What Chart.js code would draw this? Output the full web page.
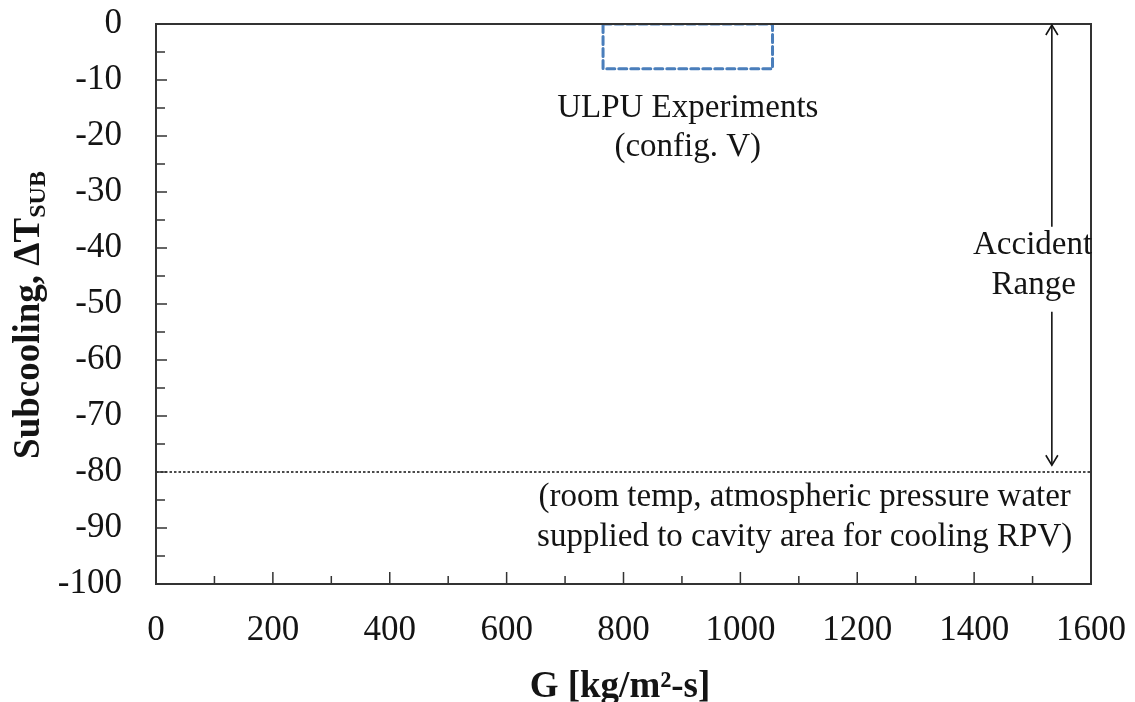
<!DOCTYPE html>
<html lang="en">
<head>
<meta charset="UTF-8">
<title>Subcooling vs G</title>
<script src="https://cdn.jsdelivr.net/npm/chart.js"></script>
<style>
  html, body { margin: 0; padding: 0; background: #fff; }
  #wrap { width: 1135px; height: 702px; }
</style>
</head>
<body>
<div id="wrap"><canvas id="chart" width="1135" height="702"></canvas></div>
<script>
// ULPU experiment envelope (dashed box)
const boxG   = [765, 1055, 1055, 765, 765];
const boxSub = [0, 0, -8, -8, 0];
// room temperature water line
const roomG   = [0, 1600];
const roomSub = [-80, -80];
// accident range arrow (gap in the middle for the label)
const arrowG   = [1533, 1533, 1533, 1533, 1533];
const arrowSub = [0, -36.2, null, -51.4, -78.8];

const xMin = 0, xMax = 1600, xStep = 200;
const yMin = -100, yMax = 0, yStep = 10;

const serif = '"Liberation Serif", "Times New Roman", serif';
const ink = '#141414';

function pts(xs, ys) {
  return xs.map((x, i) => ({ x: x, y: ys[i] }));
}

// text notes placed in data units
const notes = [
  { text: 'ULPU Experiments', x: 910, y: -15 },
  { text: '(config. V)', x: 910, y: -22.1 },
  { text: 'Accident', x: 1500, y: -39.5 },
  { text: 'Range', x: 1502, y: -46.6 },
  { text: '(room temp, atmospheric pressure water', x: 1110, y: -84.5 },
  { text: 'supplied to cavity area for cooling RPV)', x: 1110, y: -91.6 }
];

// kill the automatic label overflow padding so the plot box stays put
function noPad(s) {
  s.paddingTop = 0; s.paddingBottom = 0;
  s.paddingLeft = 0; s.paddingRight = 0;
}

const decorPlugin = {
  id: 'decor',
  afterDatasetsDraw(chart) {
    const ctx = chart.ctx;
    const a = chart.chartArea;
    const xs = chart.scales.x, ys = chart.scales.y;
    ctx.save();

    // frame
    ctx.strokeStyle = '#333';
    ctx.lineWidth = 2;
    ctx.strokeRect(a.left, a.top, a.right - a.left, a.bottom - a.top);

    // inward tick marks, major and minor
    ctx.lineWidth = 1.5;
    ctx.beginPath();
    const yt = ys.ticks.map(t => t.value);
    yt.forEach((v, i) => {
      const p = ys.getPixelForValue(v);
      ctx.moveTo(a.left, p); ctx.lineTo(a.left + 11, p);
      if (i < yt.length - 1) {
        const m = ys.getPixelForValue((v + yt[i + 1]) / 2);
        ctx.moveTo(a.left, m); ctx.lineTo(a.left + 9, m);
      }
    });
    const xt = xs.ticks.map(t => t.value);
    xt.forEach((v, i) => {
      const p = xs.getPixelForValue(v);
      ctx.moveTo(p, a.bottom); ctx.lineTo(p, a.bottom - 12);
      if (i < xt.length - 1) {
        const m = xs.getPixelForValue((v + xt[i + 1]) / 2);
        ctx.moveTo(m, a.bottom); ctx.lineTo(m, a.bottom - 8);
      }
    });
    ctx.stroke();

    // arrow heads
    const ax = xs.getPixelForValue(arrowG[0]);
    const top = ys.getPixelForValue(arrowSub[0]);
    const bot = ys.getPixelForValue(arrowSub[arrowSub.length - 1]);
    ctx.strokeStyle = ink;
    ctx.lineWidth = 1.6;
    ctx.beginPath();
    ctx.moveTo(ax - 6, top + 11); ctx.lineTo(ax, top + 1); ctx.lineTo(ax + 6, top + 11);
    ctx.moveTo(ax - 6, bot - 10); ctx.lineTo(ax, bot); ctx.lineTo(ax + 6, bot - 10);
    ctx.stroke();

    // notes
    ctx.fillStyle = ink;
    ctx.font = '33px ' + serif;
    ctx.textAlign = 'center';
    ctx.textBaseline = 'middle';
    notes.forEach(n => {
      ctx.fillText(n.text, xs.getPixelForValue(n.x), ys.getPixelForValue(n.y));
    });

    // x axis title
    ctx.font = 'bold 37px ' + serif;
    ctx.fillText('G [kg/m²-s]', 620, 687);

    // y axis title with subscript
    ctx.translate(27, 315);
    ctx.rotate(-Math.PI / 2);
    const main = 'Subcooling, \u0394T', sub = 'SUB';
    ctx.font = 'bold 37px ' + serif;
    const w1 = ctx.measureText(main).width;
    ctx.font = 'bold 24px ' + serif;
    const w2 = ctx.measureText(sub).width;
    const x0 = -(w1 + w2) / 2;
    ctx.textAlign = 'left';
    ctx.textBaseline = 'alphabetic';
    ctx.font = 'bold 37px ' + serif;
    ctx.fillText(main, x0, 12);
    ctx.font = 'bold 24px ' + serif;
    ctx.fillText(sub, x0 + w1, 18);
    ctx.restore();
  }
};

new Chart(document.getElementById('chart'), {
  type: 'scatter',
  data: {
    datasets: [
      {
        label: 'ULPU Experiments (config. V)',
        data: pts(boxG, boxSub),
        showLine: true,
        borderColor: '#4a7ebb',
        borderWidth: 3,
        borderDash: [8, 4],
        borderCapStyle: 'round',
        borderJoinStyle: 'round',
        pointRadius: 0,
        tension: 0
      },
      {
        label: 'Room temp water',
        data: pts(roomG, roomSub),
        showLine: true,
        borderColor: '#111',
        borderWidth: 1.4,
        borderDash: [2.5, 2],
        pointRadius: 0
      },
      {
        label: 'Accident Range',
        data: pts(arrowG, arrowSub),
        showLine: true,
        spanGaps: false,
        borderColor: ink,
        borderWidth: 1.6,
        pointRadius: 0
      }
    ]
  },
  options: {
    responsive: false,
    animation: false,
    events: [],
    layout: { padding: { left: 0, top: 24, right: 44, bottom: 0 } },
    plugins: { legend: { display: false }, tooltip: { enabled: false } },
    scales: {
      x: {
        type: 'linear',
        min: xMin, max: xMax,
        grid: { display: false },
        border: { display: false },
        ticks: {
          stepSize: xStep,
          padding: 18,
          color: ink,
          font: { family: serif, size: 35 },
          callback: v => String(v)
        },
        afterFit(s) { s.height = 118; noPad(s); }
      },
      y: {
        type: 'linear',
        min: yMin, max: yMax,
        grid: { display: false },
        border: { display: false },
        ticks: {
          stepSize: yStep,
          padding: 26,
          color: ink,
          font: { family: serif, size: 35 },
          callback: v => String(v)
        },
        afterFit(s) { s.width = 156; noPad(s); }
      }
    }
  },
  plugins: [decorPlugin]
});
</script>
</body>
</html>
